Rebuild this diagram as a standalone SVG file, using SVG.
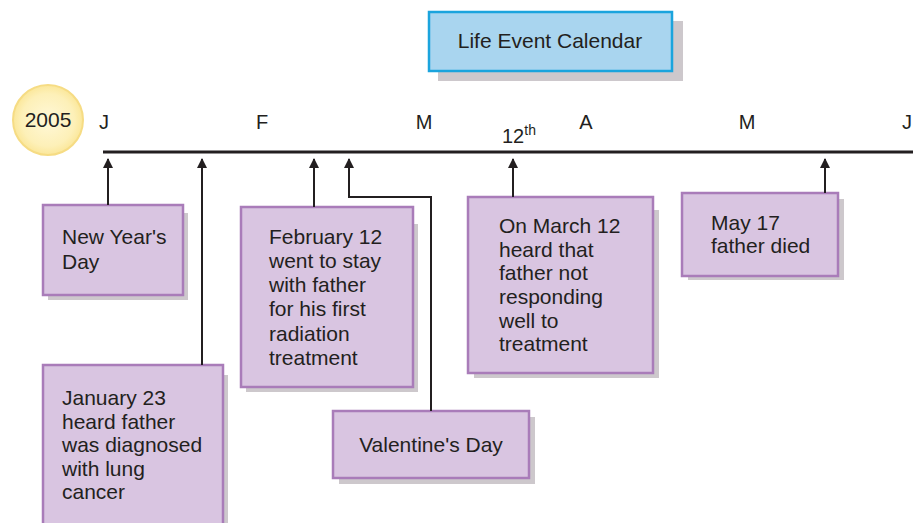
<svg xmlns="http://www.w3.org/2000/svg" width="913" height="523" viewBox="0 0 913 523">
  <defs>
    <marker id="arrow" viewBox="0 0 10 10" refX="9" refY="5" markerWidth="10" markerHeight="10" markerUnits="userSpaceOnUse" orient="auto">
      <path d="M0,0 L10,5 L0,10 z" fill="#231f20"/>
    </marker>
    <radialGradient id="yearFill" cx="0.5" cy="0.5" r="0.5">
      <stop offset="0" stop-color="#fff8d8"/>
      <stop offset="0.75" stop-color="#fdf0b8"/>
      <stop offset="1" stop-color="#fbe79a"/>
    </radialGradient>
  </defs>
  <style>
    text { font-family: "Liberation Sans", Arial, Helvetica, sans-serif; fill: #231f20; }
    .label { font-size: 21px; }
    .month { font-size: 20px; }
    .shadow { fill: #cdc8cc; }
    .event { fill: #d9c5e1; stroke: #a97cb9; stroke-width: 2.5; }
    .title { fill: #a9d5ef; stroke: #1ba4dd; stroke-width: 2.5; }
    .conn { fill: none; stroke: #231f20; stroke-width: 2; }
  </style>
  <rect width="913" height="523" fill="#ffffff"/>

  <!-- heading -->
  <g id="title">
    <rect class="shadow" x="438" y="21" width="245" height="60"/>
    <rect class="title" x="429" y="12" width="243" height="59"/>
    <text class="label" x="550" y="48" text-anchor="middle">Life Event Calendar</text>
  </g>

  <!-- year badge -->
  <g id="year">
    <circle cx="48" cy="120" r="35" fill="url(#yearFill)" stroke="#f6dc84" stroke-width="2"/>
    <text class="label" x="48" y="127" text-anchor="middle">2005</text>
  </g>

  <!-- timeline axis and month ticks -->
  <g id="timeline">
    <line x1="103" y1="152" x2="913" y2="152" stroke="#231f20" stroke-width="3"/>
    <text class="month" x="104" y="129" text-anchor="middle">J</text>
    <text class="month" x="262" y="129" text-anchor="middle">F</text>
    <text class="month" x="424" y="129" text-anchor="middle">M</text>
    <text class="month" x="586" y="129" text-anchor="middle">A</text>
    <text class="month" x="747" y="129" text-anchor="middle">M</text>
    <text class="month" x="907" y="129" text-anchor="middle">J</text>
    <text class="month" x="502" y="143">12<tspan font-size="14" dy="-8">th</tspan></text>
  </g>

  <!-- event boxes -->
  <g id="new-year">
    <rect class="shadow" x="48" y="213" width="140" height="87"/>
    <rect class="event" x="43" y="205" width="140" height="90"/>
    <text class="label" x="62" y="244">New Year's</text>
    <text class="label" x="62" y="269">Day</text>
  </g>

  <g id="january-23">
    <rect class="shadow" x="48" y="375" width="180" height="160"/>
    <rect class="event" x="43" y="365" width="180" height="170"/>
    <text class="label" x="62" y="405">January 23</text>
    <text class="label" x="62" y="429">heard father</text>
    <text class="label" x="62" y="452">was diagnosed</text>
    <text class="label" x="62" y="476">with lung</text>
    <text class="label" x="62" y="499">cancer</text>
  </g>

  <g id="february-12">
    <rect class="shadow" x="246" y="224" width="172" height="168"/>
    <rect class="event" x="241" y="207" width="172" height="180"/>
    <text class="label" x="269" y="244">February 12</text>
    <text class="label" x="269" y="268">went to stay</text>
    <text class="label" x="269" y="292">with father</text>
    <text class="label" x="269" y="316">for his first</text>
    <text class="label" x="269" y="341">radiation</text>
    <text class="label" x="269" y="365">treatment</text>
  </g>

  <g id="valentines">
    <rect class="shadow" x="339" y="417" width="196" height="67"/>
    <rect class="event" x="333" y="411" width="196" height="67"/>
    <text class="label" x="431" y="452" text-anchor="middle">Valentine's Day</text>
  </g>

  <g id="march-12">
    <rect class="shadow" x="474" y="210" width="185" height="168"/>
    <rect class="event" x="468" y="197" width="185" height="176"/>
    <text class="label" x="499" y="233">On March 12</text>
    <text class="label" x="499" y="257">heard that</text>
    <text class="label" x="499" y="280">father not</text>
    <text class="label" x="499" y="304">responding</text>
    <text class="label" x="499" y="328">well to</text>
    <text class="label" x="499" y="351">treatment</text>
  </g>

  <g id="may-17">
    <rect class="shadow" x="688" y="199" width="156" height="81"/>
    <rect class="event" x="682" y="193" width="156" height="83"/>
    <text class="label" x="711" y="230">May 17</text>
    <text class="label" x="711" y="253">father died</text>
  </g>

  <!-- connectors from each event up to the axis -->
  <g id="connectors">
    <path class="conn" d="M108,205 V159" marker-end="url(#arrow)"/>
    <path class="conn" d="M202,365 V159" marker-end="url(#arrow)"/>
    <path class="conn" d="M314,207 V159" marker-end="url(#arrow)"/>
    <path class="conn" d="M431,411 V197 H349 V159" marker-end="url(#arrow)"/>
    <path class="conn" d="M513,197 V159" marker-end="url(#arrow)"/>
    <path class="conn" d="M825,193 V159" marker-end="url(#arrow)"/>
  </g>
</svg>
